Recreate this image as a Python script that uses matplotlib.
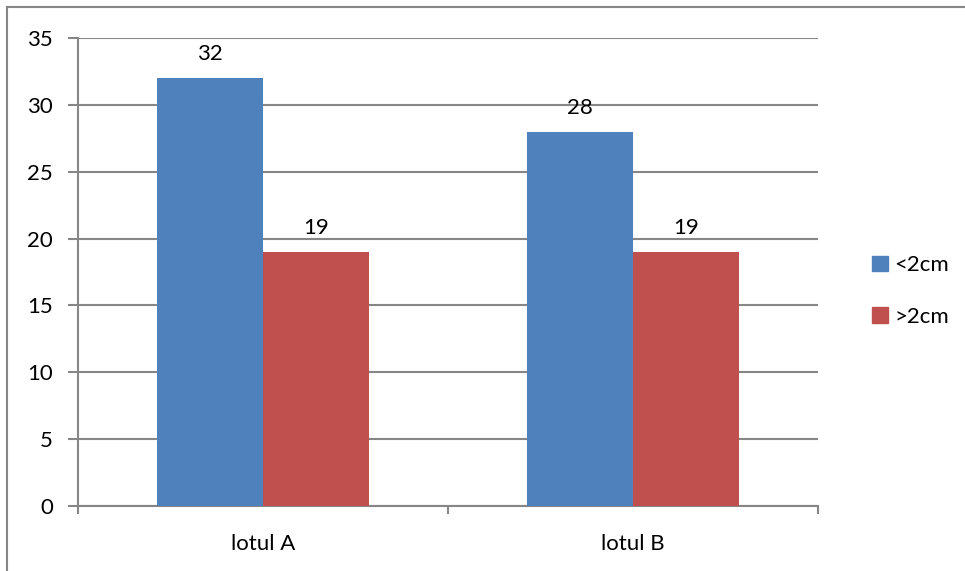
import matplotlib
matplotlib.use("Agg")
import matplotlib.pyplot as plt
from matplotlib.lines import Line2D
from matplotlib.patches import Patch
import numpy as np

categories = ["lotul A", "lotul B"]
series_names = ["<2cm", ">2cm"]
small_vals = [32, 28]
large_vals = [19, 19]
y_ticks = [0, 5, 10, 15, 20, 25, 30, 35]

colors = ["#4F81BD", "#C0504D"]
grid_color = "#868686"
fs = 16
plt.rcParams["font.family"] = ["Lato", "DejaVu Sans"]

fig = plt.figure(figsize=(9.65, 5.71), dpi=100)
ax = fig.add_axes([78 / 965, 65 / 571, 740 / 965, 468 / 571])

x = np.arange(len(categories))
bw = 0.2865
b1 = ax.bar(x - bw / 2, small_vals, bw, color=colors[0], zorder=3, label=series_names[0])
b2 = ax.bar(x + bw / 2, large_vals, bw, color=colors[1], zorder=3, label=series_names[1])

for bars, vals in ((b1, small_vals), (b2, large_vals)):
    for rect, v in zip(bars, vals):
        ax.annotate(str(v), (rect.get_x() + rect.get_width() / 2, v),
                    xytext=(0, 10), textcoords="offset points",
                    ha="center", va="bottom", fontsize=fs)

ax.set_xlim(-0.5, len(categories) - 0.5)
ax.set_ylim(0, 35)
ax.set_yticks(y_ticks)
ax.yaxis.grid(True, color=grid_color, linewidth=1.5, zorder=0)
ax.set_axisbelow(True)

ax.set_xticks(x)
ax.set_xticklabels(categories, fontsize=fs)
ax.set_xticks(np.arange(-0.5, len(categories)), minor=True)
ax.tick_params(axis="x", which="major", length=0, pad=20)
ax.tick_params(axis="x", which="minor", length=6, width=1.5, color=grid_color, direction="out")
ax.tick_params(axis="y", length=7, width=1.5, color=grid_color, labelsize=fs, pad=11)

for s in ("top", "right"):
    ax.spines[s].set_visible(False)
for s in ("left", "bottom"):
    ax.spines[s].set_color(grid_color)
    ax.spines[s].set_linewidth(1.5)

handles = [Patch(color=c) for c in colors]
fig.legend(handles, series_names, loc="center left",
           bbox_to_anchor=(861 / 965, 1 - 291 / 571),
           frameon=False, fontsize=fs, handlelength=0.7, handleheight=0.7,
           handletextpad=0.3, labelspacing=1.4, borderpad=0)

# chart-area border along the top and left edges
fig.add_artist(Line2D([7 / 965, 7 / 965], [0, 1 - 7 / 571], color=grid_color,
                      linewidth=1.5, transform=fig.transFigure))
fig.add_artist(Line2D([7 / 965, 1], [1 - 7 / 571, 1 - 7 / 571], color=grid_color,
                      linewidth=1.5, transform=fig.transFigure))

fig.savefig("out.png", dpi=100)
